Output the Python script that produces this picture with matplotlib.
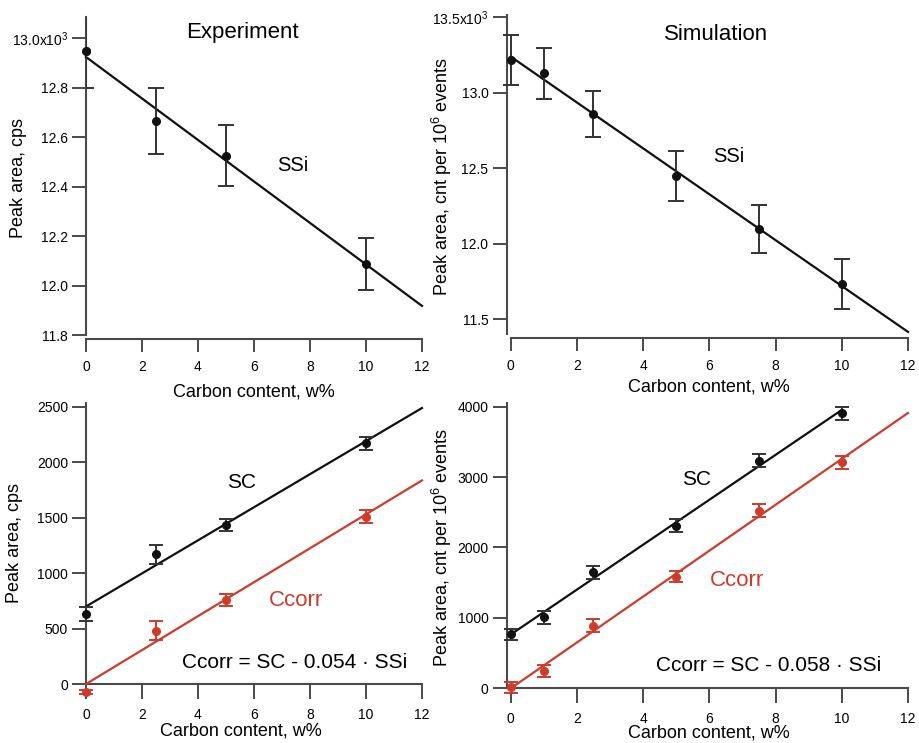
import numpy as np
import matplotlib
matplotlib.use("Agg")
import matplotlib.pyplot as plt

plt.rcParams['font.family'] = ['Liberation Sans', 'DejaVu Sans']
plt.rcParams['mathtext.fontset'] = 'custom'
plt.rcParams['mathtext.rm'] = 'Liberation Sans'
plt.rcParams['mathtext.it'] = 'Liberation Sans'

# ---------------- data ----------------
exp_x = [0, 2.5, 5, 10]
exp_ssi = [12.95, 12.667, 12.526, 12.088]
exp_ssi_err = [0.15, 0.134, 0.122, 0.107]
exp_sc = [633, 1171, 1435, 2171]
exp_sc_err = [60, 85, 55, 60]
exp_ccorr = [-67, 483, 759, 1510]
exp_ccorr_err = [20, 83, 50, 60]

sim_x = [0, 1, 2.5, 5, 7.5, 10]
sim_ssi = [13.217, 13.129, 12.860, 12.451, 12.098, 11.732]
sim_ssi_err = [0.163, 0.17, 0.155, 0.166, 0.159, 0.167]
sim_sc = [771, 1008, 1648, 2310, 3233, 3906]
sim_sc_err = [78, 90, 90, 88, 90, 95]
sim_ccorr = [15, 246, 890, 1585, 2523, 3210]
sim_ccorr_err = [80, 83, 90, 80, 88, 92]

x_ticks = [0, 2, 4, 6, 8, 10, 12]
tl_yticks = [11.8, 12.0, 12.2, 12.4, 12.6, 12.8, 13.0]
tl_yticklabels = ['11.8', '12.0', '12.2', '12.4', '12.6', '12.8', '13.0x10$^3$']
tr_yticks = [11.5, 12.0, 12.5, 13.0, 13.5]
tr_yticklabels = ['11.5', '12.0', '12.5', '13.0', '13.5x10$^3$']
bl_yticks = [0, 500, 1000, 1500, 2000, 2500]
br_yticks = [0, 1000, 2000, 3000, 4000]

xlabel = 'Carbon content, w%'
ylabel_exp = 'Peak area, cps'
ylabel_sim = 'Peak area, cnt per 10$^6$ events'

# ---------------- style ----------------
BLACK = '#111111'
RED = '#cf3b2b'
SPINE = '#4a4a4a'
W, H = 920, 743

fig = plt.figure(figsize=(W / 100, H / 100), dpi=100)


def px_axes(x0, x1, ytop, ybot):
    ax = fig.add_axes([x0 / W, (H - ybot) / H, (x1 - x0) / W, (ybot - ytop) / H])
    ax.patch.set_visible(False)
    return ax


def style(ax, yticks, ylabels, left_out=0, xtick_len=9):
    for s in ['top', 'right']:
        ax.spines[s].set_visible(False)
    for s in ['left', 'bottom']:
        ax.spines[s].set_color(SPINE)
        ax.spines[s].set_linewidth(1.5)
        ax.spines[s].set_zorder(1)
    if left_out:
        ax.spines['left'].set_position(('outward', left_out))
    ax.set_xlim(0, 12)
    ax.set_xticks(x_ticks)
    ax.set_yticks(yticks)
    ax.set_yticklabels(ylabels)
    ax.tick_params(axis='y', length=10, width=1.4, color=SPINE, labelsize=10, pad=3)
    ax.tick_params(axis='x', length=xtick_len, width=1.4, color=SPINE, labelsize=10, pad=6)


def errplot(ax, x, y, e, color, cap=4.8, clip=False):
    ax.errorbar(x, y, yerr=e, fmt='o', color=color, ecolor=color if color == RED else '#333333',
                ms=5.5, capsize=cap, elinewidth=1.4, capthick=1.4, clip_on=clip, zorder=4)


def fitline(ax, x, y, color, xend=12):
    k, b = np.polyfit(x, y, 1)
    xs = np.array([0, xend])
    ax.plot(xs, k * xs + b, color=color, lw=1.6, zorder=3, clip_on=False)


# ---- top-left: Experiment SSi ----
ax1 = px_axes(86, 422, 17, 339)
style(ax1, tl_yticks, tl_yticklabels)
ax1.set_ylim(11.785, 13.086)
ax1.spines['left'].set_bounds(11.8, 13.086)
fitline(ax1, exp_x, exp_ssi, BLACK)
errplot(ax1, exp_x, exp_ssi, exp_ssi_err, BLACK, cap=5.5, clip=True)
ax1.plot(exp_x[:1], exp_ssi[:1], 'o', color=BLACK, ms=5.5, clip_on=False, zorder=5)
ax1.text(5.57, 13.025, 'Experiment', fontsize=16, ha='center', va='center')
ax1.text(7.39, 12.488, 'SSi', fontsize=14.5, ha='center', va='center')
ax1.set_xlabel(xlabel, fontsize=13)
ax1.xaxis.set_label_coords(0.5, -0.137)
ax1.set_ylabel(ylabel_exp, fontsize=13)
ax1.yaxis.set_label_coords(-0.176, 0.5)

# ---- top-right: Simulation SSi ----
ax2 = px_axes(510.7, 908, 15, 338)
style(ax2, tr_yticks, tr_yticklabels, left_out=3)
ax2.set_ylim(11.376, 13.515)
ax2.spines['left'].set_bounds(11.40, 13.515)
fitline(ax2, sim_x, sim_ssi, BLACK)
errplot(ax2, sim_x, sim_ssi, sim_ssi_err, BLACK, cap=5.5)
ax2.text(6.2, 13.389, 'Simulation', fontsize=16, ha='center', va='center')
ax2.text(6.59, 12.575, 'SSi', fontsize=14.5, ha='center', va='center')
ax2.set_xlabel(xlabel, fontsize=13)
ax2.xaxis.set_label_coords(0.5, -0.124)
ax2.set_ylabel(ylabel_sim, fontsize=13)
ax2.yaxis.set_label_coords(-0.143, 0.5)

# ---- bottom-left: Experiment SC / Ccorr ----
ax3 = px_axes(86, 422, 403, 700)
style(ax3, bl_yticks, [str(v) for v in bl_yticks], xtick_len=11)
ax3.set_ylim(-141, 2533)
ax3.spines['bottom'].set_position(('data', 0))
ax3.spines['left'].set_bounds(0, 2533)
fitline(ax3, exp_x, exp_sc, BLACK)
fitline(ax3, exp_x, exp_ccorr, RED)
errplot(ax3, exp_x, exp_sc, exp_sc_err, BLACK)
errplot(ax3, exp_x, exp_ccorr, exp_ccorr_err, RED)
ax3.text(5.57, 1813, 'SC', fontsize=15, ha='center', va='center')
ax3.text(7.5, 759, 'Ccorr', fontsize=16, ha='center', va='center', color=RED)
ax3.text(7.46, 193, 'Ccorr = SC - 0.054 \u00b7 SSi', fontsize=15, ha='center', va='center')
ax3.set_xlabel(xlabel, fontsize=13)
ax3.xaxis.set_label_coords(0.46, -0.077)
ax3.set_ylabel(ylabel_exp, fontsize=13)
ax3.yaxis.set_label_coords(-0.1875, 0.53)

# ---- bottom-right: Simulation SC / Ccorr ----
ax4 = px_axes(510.7, 908, 403, 700)
style(ax4, br_yticks, [str(v) for v in br_yticks], left_out=3, xtick_len=11)
ax4.set_ylim(-166, 4052)
ax4.spines['bottom'].set_position(('data', 0))
ax4.spines['left'].set_bounds(0, 4052)
fitline(ax4, sim_x, sim_sc, BLACK, xend=10)
fitline(ax4, sim_x, sim_ccorr, RED)
errplot(ax4, sim_x, sim_sc, sim_sc_err, BLACK)
errplot(ax4, sim_x, sim_ccorr, sim_ccorr_err, RED)
ax4.text(5.6, 2959, 'SC', fontsize=15, ha='center', va='center')
ax4.text(6.84, 1525, 'Ccorr', fontsize=16, ha='center', va='center', color=RED)
ax4.text(7.8, 331, 'Ccorr = SC - 0.058 \u00b7 SSi', fontsize=15, ha='center', va='center')
ax4.set_xlabel(xlabel, fontsize=13)
ax4.xaxis.set_label_coords(0.5, -0.081)
ax4.set_ylabel(ylabel_sim, fontsize=13)
ax4.yaxis.set_label_coords(-0.143, 0.515)

fig.savefig('out.png', dpi=100)
